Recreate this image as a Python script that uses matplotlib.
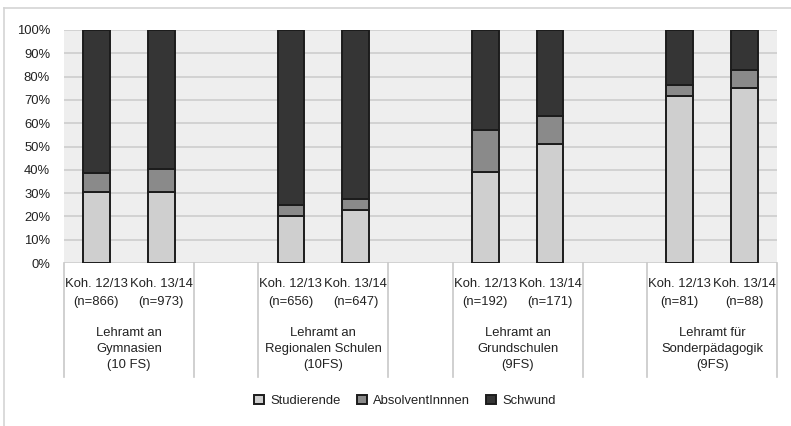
import matplotlib
matplotlib.use("Agg")
import matplotlib.pyplot as plt
from matplotlib.transforms import blended_transform_factory
from matplotlib.patches import Patch
from matplotlib.lines import Line2D
import numpy as np

plt.rcParams['font.family'] = ['Liberation Sans', 'DejaVu Sans']

series_names = ["Studierende", "AbsolventInnnen", "Schwund"]
studierende = [30.5, 30.5, 20.0, 22.6, 39.0, 51.0, 71.6, 74.9]
absolventen = [8.3, 10.0, 5.0, 4.7, 18.0, 12.0, 5.0, 7.8]
schwund = [61.2, 59.5, 75.0, 72.7, 43.0, 37.0, 23.4, 17.3]
cohort_labels = ["Koh. 12/13", "Koh. 13/14"] * 4
n_labels = ["(n=866)", "(n=973)", "(n=656)", "(n=647)",
            "(n=192)", "(n=171)", "(n=81)", "(n=88)"]
group_labels = ["Lehramt an\nGymnasien\n(10 FS)",
                "Lehramt an\nRegionalen Schulen\n(10FS)",
                "Lehramt an\nGrundschulen\n(9FS)",
                "Lehramt für\nSonderpädagogik\n(9FS)"]

colors = ["#cfcfcf", "#8a8a8a", "#353535"]
edge = "#1c1c1c"

W, H = 791, 426
fig = plt.figure(figsize=(W / 100, H / 100), dpi=100)
fig.patch.set_facecolor("white")

# outer frame
fig.add_artist(Line2D([4 / W, 4 / W], [0, 1 - 8 / H], transform=fig.transFigure, color="#d4d4d4", lw=1.2))
fig.add_artist(Line2D([4 / W, 1], [1 - 8 / H, 1 - 8 / H], transform=fig.transFigure, color="#d4d4d4", lw=1.2))

x0, x1 = 64 / W, 777 / W
y0, y1 = 1 - 263 / H, 1 - 30 / H
ax = fig.add_axes([x0, y0, x1 - x0, y1 - y0])
ax.set_facecolor("#eeeeee")

# 11 slots: 2 bars, gap, 2 bars, gap, 2 bars, gap, 2 bars
positions = np.array([0, 1, 3, 4, 6, 7, 9, 10])
bw = 0.41
stud = np.array(studierende)
absv = np.array(absolventen)
schw = np.array(schwund)
ax.bar(positions, stud, bw, color=colors[0], edgecolor=edge, lw=1.4, zorder=3)
ax.bar(positions, absv, bw, bottom=stud, color=colors[1], edgecolor=edge, lw=1.4, zorder=3)
ax.bar(positions, schw, bw, bottom=stud + absv, color=colors[2], edgecolor=edge, lw=1.4, zorder=3)

fs = 9.4
tc = "#222222"

ax.set_xlim(-0.5, 10.5)
ax.set_ylim(0, 100)
ax.set_yticks(np.arange(0, 101, 10))
ax.set_yticklabels([f"{v}%" for v in range(0, 101, 10)], fontsize=fs, color=tc)
ax.yaxis.grid(True, color="#cfcfcf", lw=1.3, zorder=0)
ax.set_axisbelow(True)
ax.tick_params(axis="y", length=0, pad=10)
ax.set_xticks([])
for s in ax.spines.values():
    s.set_visible(False)

trans = blended_transform_factory(ax.transData, fig.transFigure)
for p, c, n in zip(positions, cohort_labels, n_labels):
    ax.text(p, 1 - 284 / H, c, transform=trans, ha="center", va="center", fontsize=fs, color=tc)
    ax.text(p, 1 - 302 / H, n, transform=trans, ha="center", va="center", fontsize=fs, color=tc)
for g, lab in enumerate(group_labels):
    cx = positions[2 * g] + 0.5
    ax.text(cx, 1 - 349 / H, lab, transform=trans, ha="center", va="center",
            fontsize=fs, color=tc, linespacing=1.45)

# category table lines
for b in [-0.5, 1.5, 2.5, 4.5, 5.5, 7.5, 8.5, 10.5]:
    ax.add_artist(Line2D([b, b], [1 - 263 / H, 1 - 377 / H], transform=trans,
                         color="#c8c8c8", lw=1.2, clip_on=False))

handles = [Patch(facecolor=colors[i], edgecolor=edge, lw=1.4, label=series_names[i]) for i in range(3)]
fig.legend(handles=handles, loc="center", bbox_to_anchor=(405 / W, 1 - 401 / H), ncol=3,
           frameon=False, fontsize=fs, handlelength=0.75, handleheight=0.75,
           handletextpad=0.5, columnspacing=1.2, labelcolor=tc)

fig.savefig("out.png", dpi=100)
